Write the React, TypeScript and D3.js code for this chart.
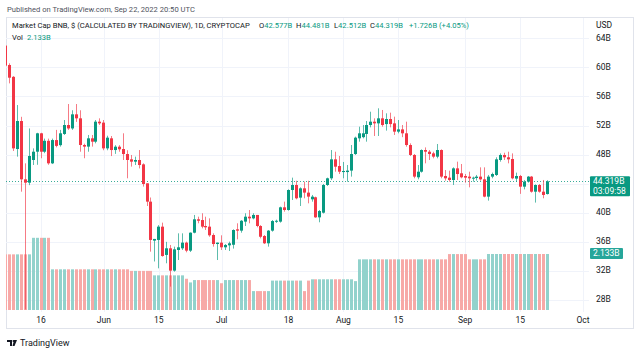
import * as d3 from 'd3'

// BNB market cap, daily, from May 7 2022 (values in billions USD)
const startDay = new Date(Date.UTC(2022, 4, 7))

const open = [
  63.0, 60.33, 58.7, 48.77, 52.62, 44.6, 44.14, 47.26, 48.4, 50.93,
  48.4, 49.9, 46.8, 50.0, 49.3, 50.84, 52.07, 51.6, 53.54, 52.99,
  49.32, 49.1, 50.24, 49.78, 52.53, 52.4, 48.86, 50.24, 48.63, 49.09,
  48.77, 48.08, 47.35, 47.03, 47.26, 46.66, 44.05, 41.53, 36.17, 36.26,
  38.09, 34.2, 35.11, 32.04, 34.88, 35.11, 35.89, 34.79, 37.26, 39.1,
  39.0, 38.18, 38.09, 36.94, 35.7, 35.89, 35.25, 35.52, 35.6, 37.72,
  37.54, 38.78, 39.46, 39.23, 39.7, 38.18, 36.8, 35.8, 37.54, 38.78,
  38.78, 40.75, 40.38, 43.13, 43.82, 42.08, 43.36, 42.77, 41.85, 42.13,
  39.37, 40.01, 43.82, 44.74, 47.35, 46.43, 45.6, 45.6, 45.8, 48.08,
  50.24, 50.4, 50.84, 52.07, 52.53, 52.3, 52.99, 52.2, 52.9, 52.3,
  51.16, 51.47, 50.93, 49.32, 47.95, 44.88, 45.65, 48.63, 48.4, 48.17,
  47.72, 48.63, 45.06, 44.83, 44.51, 46.11, 45.43, 45.06, 44.97, 44.7,
  44.78, 44.97, 44.6, 42.22, 44.97, 45.2, 47.26, 47.95, 47.63, 47.4,
  44.7, 45.06, 43.59, 44.28, 44.97, 42.9, 43.82, 42.9, 42.577,
]
const high = [
  63.4, 60.56, 58.8, 54.82, 53.2, 46.8, 51.6, 48.86, 51.0, 51.0,
  50.2, 50.2, 50.2, 51.4, 51.4, 52.76, 54.96, 54.1, 54.96, 54.1,
  49.5, 50.7, 50.7, 52.76, 52.99, 52.76, 50.6, 50.56, 49.3, 49.3,
  50.93, 48.6, 47.95, 47.72, 48.63, 46.8, 44.05, 42.1, 36.4, 38.3,
  38.64, 36.0, 35.57, 35.34, 37.17, 37.17, 36.03, 37.3, 39.7, 39.46,
  39.93, 39.46, 39.23, 37.17, 35.9, 36.9, 35.7, 36.03, 37.72, 38.55,
  39.0, 39.93, 40.38, 39.93, 39.7, 38.3, 36.94, 37.63, 39.0, 39.05,
  40.84, 41.53, 43.22, 44.83, 44.4, 43.5, 44.28, 44.4, 42.45, 42.22,
  40.38, 43.96, 44.83, 48.63, 48.4, 47.81, 46.99, 46.57, 49.32, 50.47,
  51.84, 52.07, 52.62, 53.9, 52.99, 54.37, 54.14, 53.68, 53.77, 53.22,
  52.76, 52.07, 52.53, 49.55, 48.08, 46.57, 48.72, 48.99, 48.63, 48.4,
  49.46, 48.72, 45.88, 45.79, 46.25, 47.03, 46.71, 45.33, 45.65, 44.97,
  45.2, 46.25, 46.25, 45.2, 45.52, 47.63, 48.17, 48.26, 48.4, 48.17,
  45.52, 45.2, 44.51, 45.06, 45.06, 43.9, 43.96, 44.51, 44.481,
]
const low = [
  59.9, 57.8, 48.5, 47.72, 42.9, 26.7, 43.8, 46.57, 46.6, 47.5,
  48.2, 46.6, 46.7, 49.0, 49.1, 50.7, 51.4, 51.4, 52.5, 48.4,
  47.5, 48.4, 49.1, 49.55, 52.07, 48.6, 48.6, 47.8, 48.1, 48.4,
  47.26, 44.74, 46.35, 46.57, 46.1, 43.6, 40.93, 34.65, 33.3, 32.36,
  33.96, 33.05, 29.84, 31.9, 33.5, 34.88, 34.56, 34.6, 37.17, 38.55,
  37.86, 37.63, 36.7, 35.34, 33.5, 34.88, 34.88, 34.74, 35.07, 36.35,
  37.26, 38.18, 38.55, 39.1, 38.0, 36.48, 35.7, 35.34, 37.4, 38.6,
  38.64, 40.15, 40.29, 41.76, 41.85, 40.93, 41.99, 41.3, 41.53, 39.3,
  38.69, 39.9, 43.68, 44.5, 45.65, 45.33, 44.74, 44.28, 44.97, 47.95,
  49.78, 50.24, 49.78, 51.75, 50.56, 50.56, 51.84, 51.3, 51.75, 50.7,
  50.93, 50.4, 49.09, 47.8, 44.74, 44.6, 45.52, 46.8, 47.26, 47.49,
  47.49, 44.74, 44.42, 44.28, 43.82, 44.51, 44.74, 44.14, 43.5, 44.28,
  44.42, 44.42, 42.13, 41.67, 44.74, 45.06, 47.03, 47.26, 46.8, 44.6,
  44.28, 42.6, 43.22, 44.14, 42.77, 41.4, 42.77, 41.99, 42.512,
]
const close = [
  60.24, 58.58, 48.86, 52.62, 44.6, 44.14, 47.81, 48.4, 50.93, 48.4,
  49.9, 46.8, 50.0, 49.2, 50.93, 52.07, 51.6, 53.54, 52.99, 49.32,
  49.1, 50.24, 49.78, 52.53, 52.3, 48.86, 50.33, 48.63, 49.09, 48.73,
  48.08, 47.26, 47.03, 47.26, 46.57, 43.96, 41.53, 36.26, 36.4, 38.09,
  34.05, 35.11, 32.04, 34.97, 35.25, 35.89, 34.79, 37.26, 39.1, 38.9,
  38.09, 38.0, 36.9, 35.7, 35.89, 35.25, 35.57, 35.8, 37.63, 37.54,
  38.9, 39.46, 39.23, 39.7, 38.18, 36.7, 35.8, 37.54, 38.86, 38.9,
  40.75, 40.38, 43.13, 43.82, 41.99, 43.36, 42.77, 42.22, 42.22, 39.37,
  40.24, 43.82, 44.74, 47.35, 46.34, 45.65, 45.75, 45.8, 48.08, 50.33,
  50.93, 50.93, 52.07, 52.53, 52.3, 52.99, 52.07, 52.9, 52.2, 51.16,
  51.47, 50.93, 49.32, 47.95, 44.97, 45.65, 48.63, 48.4, 48.08, 47.72,
  48.63, 44.97, 44.74, 44.51, 46.11, 45.33, 44.88, 44.83, 44.74, 44.83,
  44.97, 44.6, 42.22, 44.97, 45.33, 47.35, 47.95, 47.63, 47.35, 44.74,
  45.06, 43.59, 44.28, 44.97, 42.9, 43.82, 42.9, 42.45, 44.319,
]
const volume = [
  2.12, 2.12, 2.12, 2.12, 2.12, 2.12, 2.12,
  2.75, 2.75, 2.75, 2.75, 2.75,
  1.55, 1.55, 1.55, 1.55, 1.55, 1.55, 1.55, 1.55, 1.55, 1.55,
  1.55, 1.55, 1.55, 1.55, 1.55, 1.55, 1.55, 1.55, 1.55, 1.55,
  1.49, 1.49, 1.49, 1.49, 1.49, 1.49,
  1.32, 1.32, 1.32, 1.32, 1.32, 1.32, 1.32, 1.32,
  1.19, 1.05,
  1.14, 1.14, 1.14, 1.14, 1.14, 1.14, 1.14,
  1.02,
  1.14, 1.14, 1.14, 1.14, 1.14, 1.14, 1.14,
  0.72, 0.72, 0.72, 0.72, 0.72,
  1.12, 1.12, 1.12, 1.12, 1.12, 1.12, 1.12, 1.12,
  0.72, 1.12,
  1.17, 1.17, 1.17, 1.17, 1.17, 1.17, 1.17, 1.17, 1.17, 1.17, 1.17,
  1.10,
  1.93, 1.93, 1.93, 1.93, 1.93, 1.93, 1.93, 1.93, 1.93, 1.93,
  1.93, 1.93, 1.93, 1.93, 1.93, 1.93, 1.93, 1.93, 1.93, 1.93,
  1.93, 1.93, 1.93,
  2.13, 2.13, 2.13, 2.13, 2.13,
  1.93, 1.93, 1.93, 1.93, 1.93,
  2.133, 2.133, 2.133, 2.133, 2.133, 2.133, 2.133, 2.133,
  2.133, 2.133, 2.133, 2.133, 2.133, 2.133, 2.133, 2.133,
]

const priceTicks = [64, 60, 56, 52, 48, 44, 40, 36, 32, 28]
const timeTicks = [
  { date: new Date(Date.UTC(2022, 4, 16)), label: '16' },
  { date: new Date(Date.UTC(2022, 5, 1)), label: 'Jun' },
  { date: new Date(Date.UTC(2022, 5, 15)), label: '15' },
  { date: new Date(Date.UTC(2022, 6, 1)), label: 'Jul' },
  { date: new Date(Date.UTC(2022, 6, 18)), label: '18' },
  { date: new Date(Date.UTC(2022, 7, 1)), label: 'Aug' },
  { date: new Date(Date.UTC(2022, 7, 15)), label: '15' },
  { date: new Date(Date.UTC(2022, 8, 1)), label: 'Sep' },
  { date: new Date(Date.UTC(2022, 8, 15)), label: '15' },
  { date: new Date(Date.UTC(2022, 9, 1)), label: 'Oct' },
]

const lastPrice = 44.319
const lastVolume = 2.133

const UP = '#089981'
const DOWN = '#f23645'
const UP_VOL = '#92d2cc'
const DOWN_VOL = '#f7a9a7'
const TEXT = '#131722'
const GRID = '#f0f3fa'
const FONT = 'Roboto, "Liberation Sans", sans-serif'

export default function App() {
  const W = 640
  const H = 352
  const pane = { left: 6, right: 589, top: 18, bottom: 312 }

  const x = d3.scaleUtc()
    .domain([new Date(Date.UTC(2022, 4, 16)), new Date(Date.UTC(2022, 9, 1))])
    .range([41, 583])
  const y = d3.scaleLinear().domain([28, 64]).range([300, 38.3])
  const yVol = d3.scaleLinear().domain([0, 4]).range([310, 205])

  const bars = open.map((o, i) => ({
    date: d3.utcDay.offset(startDay, i),
    o, h: high[i], l: low[i], c: close[i], v: volume[i],
  }))

  const fs = 8.5
  const hs = 7.6 // header text is narrower

  return (
    <svg width={W} height={H} style={{ position: 'absolute', left: 0, top: 0, background: '#fff' }}
      fontFamily={FONT}>
      <defs>
        <clipPath id="pane">
          <rect x={pane.left} y={pane.top} width={pane.right - pane.left} height={pane.bottom - pane.top} />
        </clipPath>
      </defs>
      <rect width={W} height={H} fill="#fff" />

      <text x={7} y={10} fontSize={hs} fill="#50535e" dominantBaseline="middle">
        Published on TradingView.com, Sep 22, 2022 20:50 UTC
      </text>

      {/* frame */}
      <rect x={6.5} y={17.5} width={627} height={311} fill="none" stroke="#e0e3eb" />

      {/* grid */}
      {priceTicks.map(t => (
        <line key={'h' + t} x1={pane.left} x2={pane.right} y1={Math.round(y(t)) + 0.5} y2={Math.round(y(t)) + 0.5}
          stroke={GRID} />
      ))}
      {timeTicks.map(t => (
        <line key={'v' + t.date.getTime()} x1={Math.round(x(t.date)) + 0.5} x2={Math.round(x(t.date)) + 0.5}
          y1={pane.top} y2={pane.bottom} stroke={GRID} />
      ))}

      <g clipPath="url(#pane)">
        {/* volume */}
        {bars.map((b, i) => {
          const bx = Math.round(x(b.date) - 1.5)
          const top = yVol(b.v)
          return <rect key={'v' + i} x={bx} y={top} width={3} height={yVol(0) - top}
            fill={b.c >= b.o ? UP_VOL : DOWN_VOL} />
        })}

        {/* last price line */}
        <line x1={pane.left} x2={pane.right} y1={Math.round(y(lastPrice)) + 0.5} y2={Math.round(y(lastPrice)) + 0.5}
          stroke={UP} strokeDasharray="1,2" opacity={0.8} />

        {/* candles */}
        {bars.map((b, i) => {
          const col = b.c >= b.o ? UP : DOWN
          const bx = Math.round(x(b.date) - 1.5)
          const top = y(Math.max(b.o, b.c))
          const bh = Math.max(1, Math.abs(y(b.o) - y(b.c)))
          return (
            <g key={'c' + i}>
              <line x1={bx + 1.5} x2={bx + 1.5} y1={y(b.h)} y2={y(b.l)} stroke={col} opacity={0.65} />
              <rect x={bx} y={top} width={3} height={bh} fill={col} />
            </g>
          )
        })}
      </g>

      {/* legend */}
      <text y={26} fontSize={hs} dominantBaseline="middle" fill={TEXT}>
        <tspan x={12}>Market Cap BNB, $ (CALCULATED BY TRADINGVIEW), 1D, CRYPTOCAP</tspan>
        <tspan x={259}>O</tspan><tspan fill={UP}>42.577B</tspan>
        <tspan x={296}>H</tspan><tspan fill={UP}>44.481B</tspan>
        <tspan x={334}>L</tspan><tspan fill={UP}>42.512B</tspan>
        <tspan x={370}>C</tspan><tspan fill={UP}>44.319B</tspan>
        <tspan x={409} fill={UP}>+1.726B (+4.05%)</tspan>
      </text>
      <text y={38} fontSize={hs} dominantBaseline="middle" fill={TEXT}>
        <tspan x={12}>Vol</tspan>
        <tspan x={27} fill={UP}>2.133B</tspan>
      </text>

      {/* price axis */}
      <text x={596} y={26} fontSize={fs} fill={TEXT} dominantBaseline="middle">USD</text>
      {priceTicks.filter(t => t !== 44).map(t => (
        <text key={'pt' + t} x={596} y={y(t)} fontSize={fs} fill={TEXT} dominantBaseline="middle">{t}B</text>
      ))}
      <rect x={590} y={y(lastPrice) - 5} width={40} height={20} fill={UP} rx={1} />
      <text x={593} y={y(lastPrice)} fontSize={fs} fill="#fff" dominantBaseline="middle">44.319B</text>
      <text x={593} y={y(lastPrice) + 10} fontSize={fs} fill="#fff" dominantBaseline="middle">03:09:58</text>
      <rect x={590} y={yVol(lastVolume) - 6} width={33} height={11} fill="#26a69a" rx={1} />
      <text x={593} y={yVol(lastVolume) - 0.5} fontSize={fs} fill="#fff" dominantBaseline="middle">2.133B</text>

      {/* time axis */}
      {timeTicks.map(t => (
        <text key={'tt' + t.date.getTime()} x={x(t.date)} y={321} fontSize={fs} fill={TEXT}
          textAnchor="middle" dominantBaseline="middle">{t.label}</text>
      ))}

      {/* logo */}
      <g fill={TEXT}>
        <path d="M7,340 h5 v6 h-2 v-4 h-3 z" />
        <circle cx={13.5} cy={341} r={1} />
        <path d="M14,340 h3 l-2.5,6 h-2 z" />
      </g>
      <text x={20} y={343.5} fontSize={9} fill={TEXT} dominantBaseline="middle">TradingView</text>
    </svg>
  )
}
